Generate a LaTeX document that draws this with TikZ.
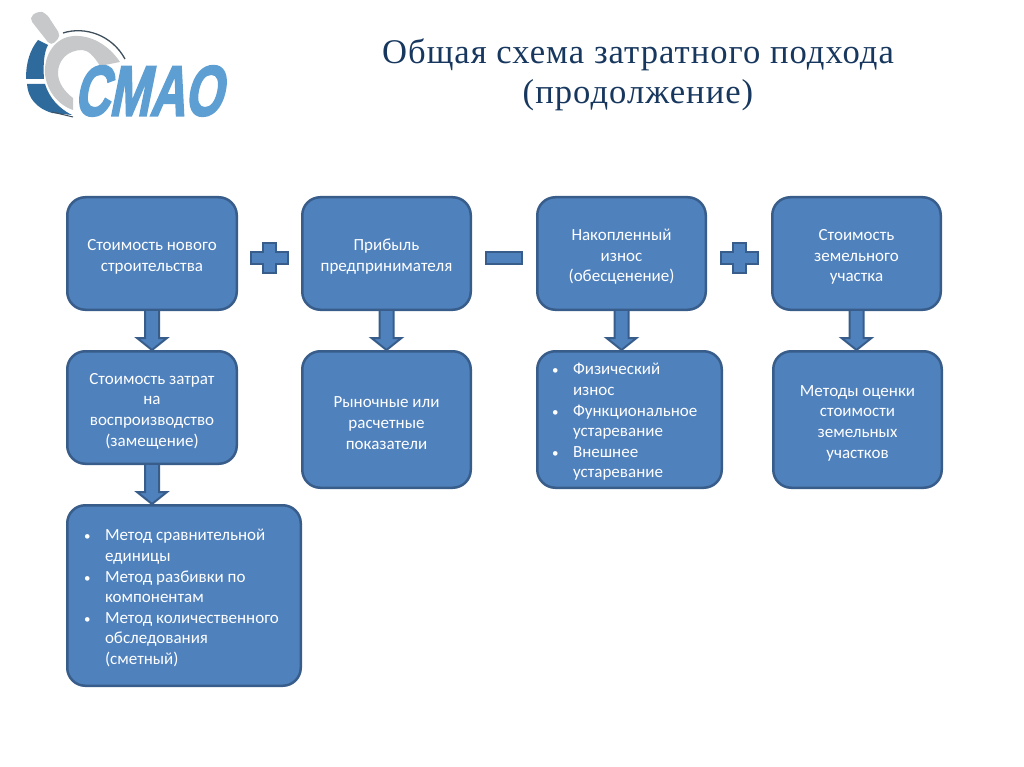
\documentclass[tikz,border=0pt]{standalone}
\usepackage{fontspec}
\setmainfont{Carlito}
\newfontfamily\titlefont[LetterSpace=3]{Liberation Serif}
\newfontfamily\logofont[FakeBold=3]{Liberation Sans Bold}
\usetikzlibrary{calc}
\definecolor{boxfill}{HTML}{4F81BD}
\definecolor{boxline}{HTML}{385D8A}
\definecolor{logoblue}{HTML}{5E9FD3}
\definecolor{logodark}{HTML}{2F6A9C}
\definecolor{logogray}{HTML}{C6C8C9}
\definecolor{logoline}{HTML}{3F4F5C}
\definecolor{titleink}{HTML}{17375E}
\newcommand{\bul}[1]{\par\noindent\hangindent=21pt\hangafter=1\makebox[21pt][l]{\fontsize{13pt}{13pt}\selectfont •}#1\par}
\newcommand{\lowr}{\rule{0pt}{18pt}}
\newcommand{\blockarrow}[2]{%
  \path coordinate (arrowend) at (#1.south |- #2.north);
  \draw[blockarr] ($(#1.south)+(-7,0)$) -- ($(arrowend)+(-7,-12)$) -- ($(arrowend)+(-15,-12)$) -- (arrowend) -- ($(arrowend)+(15,-12)$) -- ($(arrowend)+(7,-12)$) -- ($(#1.south)+(7,0)$);}
\tikzset{
  x=1pt,y=-1pt,
  stage/.style={draw=boxline,fill=boxfill,line width=2.5pt,rounded corners=18pt,text=white,align=center,
    font=\fontsize{17pt}{20.6pt}\selectfont,inner sep=0pt},
  listbox/.style={stage,align=flush left,inner xsep=14.75pt},
  blockarr/.style={draw=boxline,fill=boxfill,line width=2pt,line join=miter},
  signshape/.style={draw=boxline,fill=boxfill,line width=2pt},
  titletext/.style={font=\titlefont\fontsize{34.6pt}{40pt}\selectfont,align=center,text=titleink}
}
\begin{document}
\begin{tikzpicture}
\useasboundingbox (0,0) rectangle (1024,767);
% logo
\fill[logogray,rounded corners=5pt] (29,18) -- (38,11) -- (46,13) -- (61,36) -- (51,46) -- cycle;
\fill[logogray] (120,62) .. controls (108,44) and (90,35) .. (74,36) .. controls (55,37) and (44,55) .. (45,73) .. controls (46,90) and (58,105) .. (73,110) -- (73,98) .. controls (65,92) and (58,83) .. (58,73) .. controls (58,60) and (68,50) .. (82,50) .. controls (88,50) and (94,56) .. (100,66) -- cycle;
\fill[logodark] (38,40) .. controls (30,50) and (26,62) .. (26,79) -- (44,79) .. controls (43,65) and (44,52) .. (48,45) -- cycle;
\fill[logodark] (27,84) .. controls (28,98) and (36,108) .. (52,113) -- (72,115) .. controls (58,108) and (49,97) .. (45,84) -- cycle;
\draw[logoline,line width=1.3pt] (63,33) .. controls (85,26) and (112,35) .. (125,59);
\draw[logoline,line width=1pt] (52,112) -- (73,117);
\node[font=\logofont\fontsize{71pt}{71pt}\selectfont,text=logoblue,xslant=.2,xscale=.69,transform shape,inner sep=0pt] (logo) at (153,91) {СМАО};
% title
\node[titletext] (title) at (638,75) {Общая схема затратного подхода\\(продолжение)};
% first row
\node[stage,minimum width=169.5pt,minimum height=112.5pt] (a1) at (152,253.5) {\lowr Стоимость нового\\строительства};
\node[stage,minimum width=168.5pt,minimum height=112.5pt] (a2) at (386.5,253.5) {\lowr Прибыль\\предпринимателя};
\node[stage,minimum width=168.5pt,minimum height=112.5pt] (a3) at (621.5,253.5) {\lowr Накопленный\\износ\\(обесценение)};
\node[stage,minimum width=168.5pt,minimum height=112.5pt] (a4) at (856.5,253.5) {\lowr Стоимость\\земельного\\участка};
% second row
\node[stage,minimum width=169.5pt,minimum height=112.5pt] (b1) at (152,407.5) {\lowr Стоимость затрат\\на\\воспроизводство\\(замещение)};
\node[stage,minimum width=168.5pt,minimum height=136.5pt] (b2) at (386.5,419.5) {\lowr Рыночные или\\расчетные\\показатели};
\node[listbox,minimum height=136.5pt,text width=155pt] (b3) at (629.5,419.5) {\bul{Физический\newline износ}\bul{Функциональное\newline устаревание}\bul{Внешнее\newline устаревание}\vspace{4pt}};
\node[stage,minimum width=168.5pt,minimum height=136.5pt] (b4) at (857.5,419.5) {\lowr Методы оценки\\стоимости\\земельных\\участков};
% third row
\node[listbox,inner xsep=16.75pt,minimum height=180.5pt,text width=200pt] (c1) at (184,595.5) {\bul{Метод сравнительной\newline единицы}\bul{Метод разбивки по\newline компонентам}\bul{Метод количественного\newline обследования\newline (сметный)}\vspace{4pt}};
% arrows
\blockarrow{a1}{b1}
\blockarrow{a2}{b2}
\blockarrow{a3}{b3}
\blockarrow{a4}{b4}
\blockarrow{b1}{c1}
% signs
\draw[signshape] (263,243) -- (276,243) -- (276,252) -- (288,252) -- (288,264) -- (276,264) -- (276,273) -- (263,273) -- (263,264) -- (251,264) -- (251,252) -- (263,252) -- cycle;
\draw[signshape] (486,252) rectangle (522,264);
\draw[signshape] (733,243) -- (746,243) -- (746,252) -- (758,252) -- (758,264) -- (746,264) -- (746,273) -- (733,273) -- (733,264) -- (721,264) -- (721,252) -- (733,252) -- cycle;
\end{tikzpicture}
\end{document}
